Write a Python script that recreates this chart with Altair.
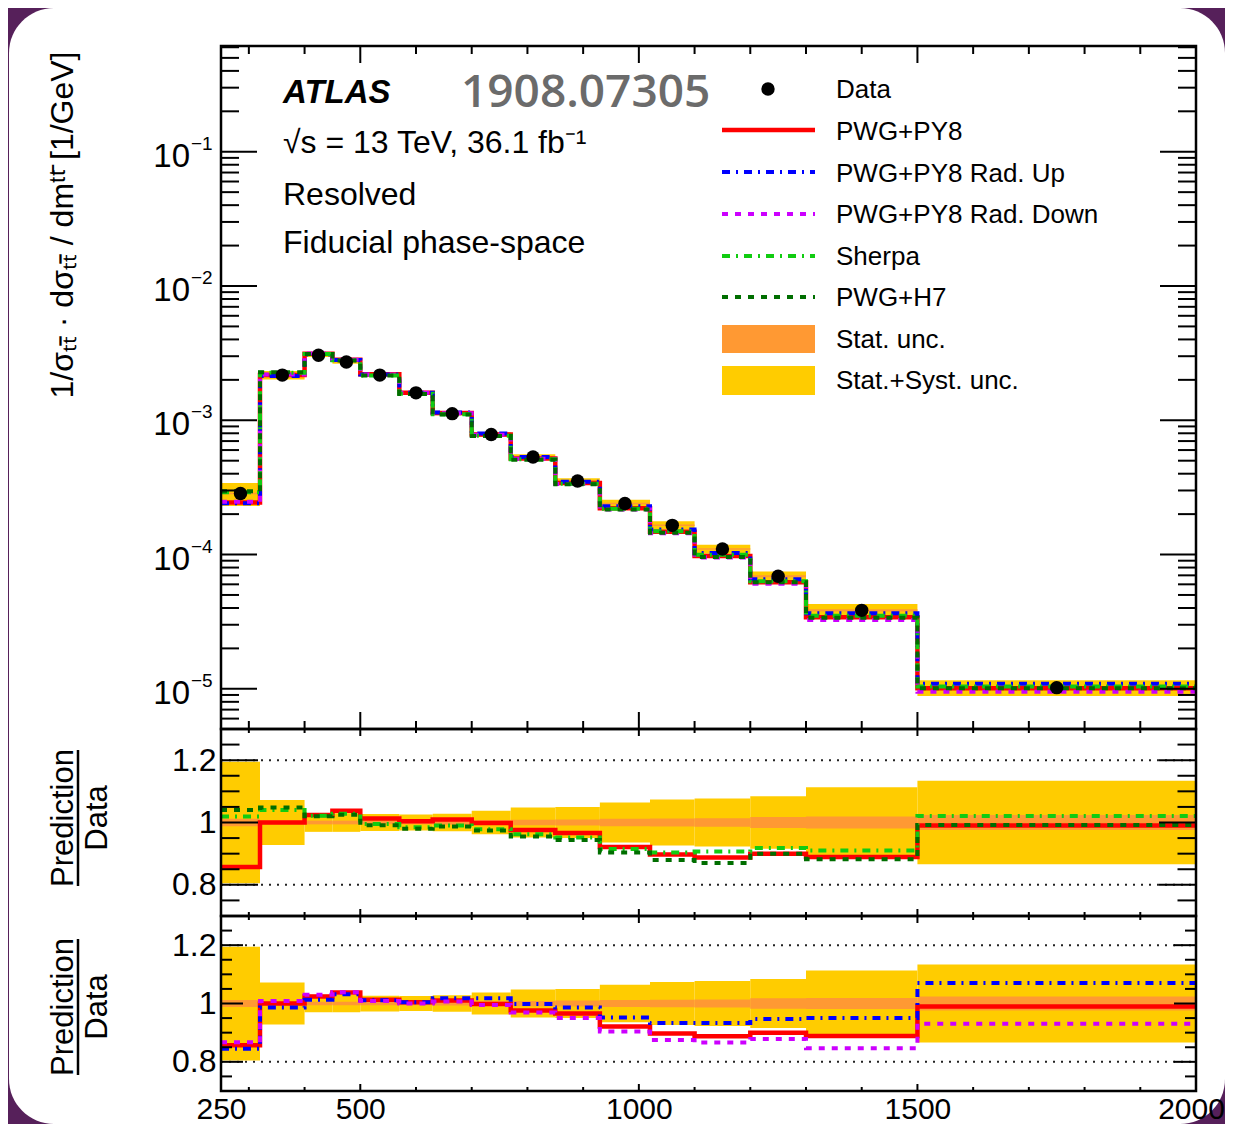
import altair as alt
import pandas as pd

# ---------------- values ----------------
bin_edges = [250, 320, 400, 450, 500, 570, 630, 700, 770, 850, 930, 1020, 1100, 1200, 1300, 1500, 2000]
data_xsec = [2.85e-4, 2.17e-3, 3.05e-3, 2.72e-3, 2.17e-3, 1.60e-3, 1.12e-3, 7.84e-4,
             5.33e-4, 3.53e-4, 2.40e-4, 1.65e-4, 1.10e-4, 6.9e-5, 3.84e-5, 1.02e-5]
unc_total = [0.195, 0.072, 0.030, 0.030, 0.027, 0.026, 0.028, 0.038,
             0.048, 0.050, 0.064, 0.074, 0.077, 0.084, 0.113, 0.134]
unc_stat = [0.012, 0.006, 0.006, 0.006, 0.006, 0.006, 0.007, 0.008,
            0.009, 0.010, 0.012, 0.013, 0.014, 0.018, 0.019, 0.024]
ratio_pwg_py8 = [0.857, 1.000, 1.024, 1.038, 1.013, 1.004, 1.010, 0.998,
                 0.976, 0.966, 0.921, 0.897, 0.888, 0.900, 0.889, 0.990]
ratio_rad_up = [0.845, 0.986, 1.013, 1.032, 1.011, 1.004, 1.018, 1.018,
                0.998, 0.986, 0.952, 0.933, 0.933, 0.947, 0.950, 1.070]
ratio_rad_down = [0.867, 1.009, 1.030, 1.039, 1.009, 1.000, 1.007, 0.995,
                  0.969, 0.950, 0.904, 0.875, 0.866, 0.878, 0.847, 0.931]
ratio_sherpa = [1.019, 1.040, 1.022, 1.028, 0.995, 0.985, 0.990, 0.978,
                0.962, 0.952, 0.915, 0.904, 0.907, 0.918, 0.910, 1.021]
ratio_pwg_h7 = [1.040, 1.048, 1.020, 1.025, 0.991, 0.980, 0.987, 0.974,
                0.955, 0.944, 0.904, 0.880, 0.870, 0.900, 0.882, 0.992]

x_tick_labels = [250, 500, 1000, 1500, 2000]
x_major_ticks = [500, 1000, 1500]
x_minor_ticks = [300, 400, 600, 700, 800, 900, 1100, 1200, 1300, 1400, 1600, 1700, 1800, 1900]
y_decades = [-5, -4, -3, -2, -1]
ratio_tick_labels = [0.8, 1.0, 1.2]
ratio_minor_ticks = [0.75, 0.85, 0.9, 0.95, 1.05, 1.1, 1.15, 1.25]
ratio_ref_lines = [0.8, 1.2]

legend_names = ["Data", "PWG+PY8", "PWG+PY8 Rad. Up", "PWG+PY8 Rad. Down", "Sherpa",
                "PWG+H7", "Stat. unc.", "Stat.+Syst. unc."]

# ---------------- styling ----------------
W, HM, HR1, HR2 = 975, 683, 187, 175
FONT = "Liberation Sans"
C_RED, C_BLUE, C_MAG, C_SHERPA, C_H7 = "#ff0000", "#0000ff", "#cc00ff", "#11cc11", "#006e00"
C_STAT, C_TOT = "#ff9933", "#ffcc00"
DASHDOT, DOTTED = [8, 6, 2, 6], [6, 7]
POINT_SIZE = 180

XS = alt.Scale(domain=[250, 2000], nice=False, zero=False)
YM = alt.Scale(type="log", domain=[5.02e-6, 0.613], nice=False)
YR = alt.Scale(domain=[0.7, 1.3], nice=False, zero=False)

one = pd.DataFrame({"k": [0]})

# ---------------- tables ----------------
bins = pd.DataFrame({
    "lo": bin_edges[:-1], "hi": bin_edges[1:], "data": data_xsec,
    "tot": unc_total, "stat": unc_stat,
})
bins["center"] = (bins["lo"] + bins["hi"]) / 2
bins["tot_lo"] = bins["data"] * (1 - bins["tot"])
bins["tot_hi"] = bins["data"] * (1 + bins["tot"])
bins["stat_lo"] = bins["data"] * (1 - bins["stat"])
bins["stat_hi"] = bins["data"] * (1 + bins["stat"])
bins["rtot_lo"] = 1 - bins["tot"]
bins["rtot_hi"] = 1 + bins["tot"]
bins["rstat_lo"] = 1 - bins["stat"]
bins["rstat_hi"] = 1 + bins["stat"]


def step_df(vals):
    return pd.DataFrame({"x": bin_edges, "y": list(vals) + [vals[-1]]})


def pred(ratio):
    return [d * r for d, r in zip(data_xsec, ratio)]


def xenc(field, axis=None):
    return alt.X(f"{field}:Q", scale=XS, axis=axis)


def yenc(field, scale, axis=None):
    return alt.Y(f"{field}:Q", scale=scale, axis=axis)


def step_line(vals, color, dash, width, scale, yaxis=None, xaxis=None):
    kw = dict(interpolate="step-after", color=color, strokeWidth=width, strokeCap="butt")
    if dash:
        kw["strokeDash"] = dash
    return alt.Chart(step_df(vals)).mark_line(**kw).encode(
        x=xenc("x", xaxis), y=yenc("y", scale, yaxis))


def band(lo, hi, color, scale, yaxis=None, xaxis=None):
    return alt.Chart(bins).mark_rect(color=color, opacity=1).encode(
        x=xenc("lo", xaxis), x2="hi:Q", y=yenc(lo, scale, yaxis), y2=f"{hi}:Q")


def side_ticks(vals, scale, length, width=2, yaxis=None):
    df = pd.DataFrame({"v": vals})
    base = alt.Chart(df).mark_rule(color="black", strokeWidth=width)
    return [
        base.encode(y=yenc("v", scale, yaxis), x=alt.value(0), x2=alt.value(length)),
        base.encode(y=yenc("v", scale, yaxis), x=alt.value(W - length), x2=alt.value(W)),
    ]


def tb_ticks(vals, length, H, xaxis=None):
    df = pd.DataFrame({"v": vals})
    base = alt.Chart(df).mark_rule(color="black", strokeWidth=2)
    return [
        base.encode(x=xenc("v", xaxis), y=alt.value(0), y2=alt.value(length)),
        base.encode(x=xenc("v", xaxis), y=alt.value(H - length), y2=alt.value(H)),
    ]


def frame(H):
    return alt.Chart(one).mark_rect(fillOpacity=0, stroke="black", strokeWidth=2.5).encode(
        x=alt.value(0), x2=alt.value(W), y=alt.value(0), y2=alt.value(H))


def label(text, x, y, size, **kw):
    props = dict(text=text, fontSize=size, align="left", baseline="alphabetic")
    props.update(kw)
    return alt.Chart(one).mark_text(**props).encode(x=alt.value(x), y=alt.value(y))


# ---------------- main panel ----------------
background = alt.Chart(one).mark_rect(color="white", cornerRadius=45).encode(
    x=alt.value(-212), x2=alt.value(1004), y=alt.value(-38), y2=alt.value(1078))

points = alt.Chart(bins).mark_circle(size=POINT_SIZE, color="black", opacity=1).encode(
    x=xenc("center"), y=yenc("data", YM))

y_minor = [k * 10.0 ** e for e in range(-6, 0) for k in range(2, 10)
           if 5.02e-6 < k * 10.0 ** e < 0.613]
y_major = [10.0 ** e for e in y_decades]

ylab = pd.DataFrame({"v": y_major, "exp": ["\u2212%d" % (-e) for e in y_decades]})
ylab_base = alt.Chart(ylab).mark_text(text="10", fontSize=33, align="right",
                                      baseline="alphabetic", dy=15).encode(
    x=alt.value(-31), y=yenc("v", YM))
ylab_exp = alt.Chart(ylab).mark_text(fontSize=19, align="left", baseline="alphabetic", dy=-2).encode(
    x=alt.value(-30), y=yenc("v", YM), text="exp:N")

ytitle = ("1/\u03c3\u209c\u209c\u0304 \u00b7 d\u03c3\u209c\u209c\u0304 / dm\u1d57\u1d57\u0304   [1/GeV]")
main_title = alt.Chart(one).mark_text(text=ytitle, fontSize=32, angle=270, align="center",
                                      baseline="alphabetic").encode(
    x=alt.value(-148), y=alt.value(179))

# legend
LX1, LX2, LTX = 501, 594, 615
legend_layers = [
    alt.Chart(one).mark_circle(size=POINT_SIZE, color="black", opacity=1).encode(
        x=alt.value(547), y=alt.value(43)),
]
leg_lines = [(C_RED, None, 4.5, 84), (C_BLUE, DASHDOT, 4, 126), (C_MAG, DOTTED, 4, 168),
             (C_SHERPA, DASHDOT, 4, 210), (C_H7, DOTTED, 4, 251)]
for color, dash, wdt, yy in leg_lines:
    kw = dict(color=color, strokeWidth=wdt, strokeCap="butt")
    if dash:
        kw["strokeDash"] = dash
    legend_layers.append(alt.Chart(one).mark_rule(**kw).encode(
        x=alt.value(LX1), x2=alt.value(LX2), y=alt.value(yy)))
legend_layers.append(alt.Chart(one).mark_rect(color=C_STAT).encode(
    x=alt.value(LX1), x2=alt.value(LX2), y=alt.value(279), y2=alt.value(307)))
legend_layers.append(alt.Chart(one).mark_rect(color=C_TOT).encode(
    x=alt.value(LX1), x2=alt.value(LX2), y=alt.value(320), y2=alt.value(349)))
for name, base_y in zip(legend_names, [52, 94, 135.5, 177, 218.5, 260, 301.5, 343]):
    legend_layers.append(label(name, LTX, base_y, 26))

annotations = [
    label("ATLAS", 62, 57, 33, fontWeight="bold", fontStyle="italic"),
    label("1908.07305", 240, 61, 46, font="Open Sans", fontWeight=600, color="#6b6b6b"),
    label("\u221as = 13 TeV, 36.1 fb\u207b\u00b9", 62, 107, 32),
    label("Resolved", 62, 159, 32),
    label("Fiducial phase-space", 62, 207, 32),
]

main_layers = [background,
               band("tot_lo", "tot_hi", C_TOT, YM),
               band("stat_lo", "stat_hi", C_STAT, YM),
               step_line(pred(ratio_pwg_py8), C_RED, None, 4.5, YM),
               step_line(pred(ratio_rad_up), C_BLUE, DASHDOT, 4, YM),
               step_line(pred(ratio_rad_down), C_MAG, DOTTED, 4, YM),
               step_line(pred(ratio_sherpa), C_SHERPA, DASHDOT, 4, YM),
               step_line(pred(ratio_pwg_h7), C_H7, DOTTED, 4, YM),
               points]
main_layers += side_ticks(y_major, YM, 36)
main_layers += side_ticks(y_minor, YM, 18)
main_layers += tb_ticks(x_major_ticks, 17, HM)
main_layers += tb_ticks(x_minor_ticks, 8, HM)
main_layers += [frame(HM), ylab_base, ylab_exp, main_title]
main_layers += annotations + legend_layers

main = alt.layer(*main_layers).properties(width=W, height=HM)


# ---------------- ratio panels ----------------
def ratio_panel(H, series, major_len, minor_len, show_x, title_y):
    yaxis = alt.Axis(values=ratio_tick_labels, format="~g", ticks=False, domain=False, grid=False,
                     labelFontSize=32, labelPadding=5, title=None, labelColor="black")
    xaxis = None
    if show_x:
        xaxis = alt.Axis(values=x_tick_labels, format="d", ticks=False, domain=False, grid=False,
                         labelFontSize=30, labelPadding=3, title=None, labelFlush=False,
                         labelOverlap=False, labelColor="black",
                         labelOffset={"condition": {"test": "datum.value >= 2000", "value": -5},
                                      "value": 0})
    ref = alt.Chart(pd.DataFrame({"v": ratio_ref_lines})).mark_rule(
        color="#222222", strokeWidth=2, strokeDash=[2, 6]).encode(
        y=yenc("v", YR, yaxis), x=alt.value(0), x2=alt.value(W))
    layers = [ref,
              band("rtot_lo", "rtot_hi", C_TOT, YR, yaxis, xaxis),
              band("rstat_lo", "rstat_hi", C_STAT, YR, yaxis, xaxis)]
    for vals, color, dash, wdt in series:
        layers.append(step_line(vals, color, dash, wdt, YR, yaxis, xaxis))
    layers += side_ticks(ratio_tick_labels, YR, major_len, yaxis=yaxis)
    layers += side_ticks(ratio_minor_ticks, YR, minor_len, yaxis=yaxis)
    layers += tb_ticks(x_major_ticks, 7, H, xaxis)
    layers += tb_ticks(x_minor_ticks, 4, H, xaxis)
    layers.append(frame(H))
    layers.append(alt.Chart(one).mark_text(text="Prediction", fontSize=31, angle=270, align="center",
                                           baseline="alphabetic").encode(
        x=alt.value(-148), y=alt.value(title_y)))
    layers.append(alt.Chart(one).mark_text(text="Data", fontSize=31, angle=270, align="center",
                                           baseline="alphabetic").encode(
        x=alt.value(-114), y=alt.value(title_y)))
    layers.append(alt.Chart(one).mark_rule(color="black", strokeWidth=2.5).encode(
        x=alt.value(-143), y=alt.value(title_y - 68), y2=alt.value(title_y + 68)))
    return alt.layer(*layers).properties(width=W, height=H)


r1 = ratio_panel(HR1, [(ratio_pwg_py8, C_RED, None, 4.5),
                       (ratio_sherpa, C_SHERPA, DASHDOT, 4),
                       (ratio_pwg_h7, C_H7, DOTTED, 4)], 37, 18.5, False, 89)
r2 = ratio_panel(HR2, [(ratio_pwg_py8, C_RED, None, 4.5),
                       (ratio_rad_up, C_BLUE, DASHDOT, 4),
                       (ratio_rad_down, C_MAG, DOTTED, 4)], 22, 11, True, 91)

chart = alt.vconcat(main, r1, r2, spacing=0, bounds="flush").resolve_scale(
    x="independent", y="independent"
).properties(
    padding={"left": 1, "top": 0, "right": 0, "bottom": 0},
    background="#56205a",
).configure_view(stroke=None).configure_axis(
    labelFont=FONT, labelColor="black"
).configure_text(font=FONT, color="black")

chart.save("out.html", embed_options={"renderer": "svg", "actions": False})
